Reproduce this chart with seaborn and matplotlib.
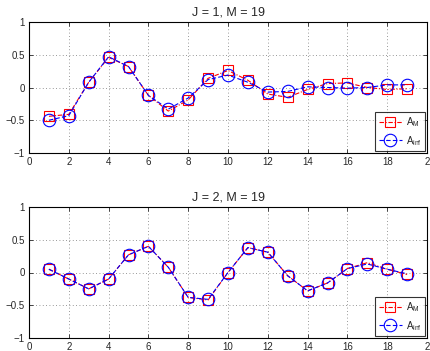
import numpy as np
import pandas as pd
import matplotlib
matplotlib.use("Agg")
import matplotlib.pyplot as plt
import seaborn as sns

sns.set_style("ticks")
plt.rcParams['font.family'] = ['Liberation Sans', 'DejaVu Sans']
plt.rcParams['mathtext.fontset'] = 'custom'
plt.rcParams['mathtext.rm'] = 'Liberation Sans'
plt.rcParams['mathtext.it'] = 'Liberation Sans'

n = list(range(1, 20))
titles = ["J = 1, M = 19", "J = 2, M = 19"]
am_j1 = [-0.44, -0.41, 0.08, 0.46, 0.32, -0.12, -0.36, -0.19, 0.14, 0.26, 0.11, -0.10, -0.15, -0.03, 0.06, 0.07, 0.00, -0.03, -0.02]
ainf_j1 = [-0.50, -0.43, 0.08, 0.47, 0.32, -0.12, -0.33, -0.16, 0.12, 0.19, 0.08, -0.07, -0.06, 0.01, 0.00, -0.01, 0.00, 0.04, 0.04]
am_j2 = [0.05, -0.10, -0.25, -0.10, 0.27, 0.40, 0.08, -0.38, -0.42, 0.00, 0.38, 0.31, -0.05, -0.28, -0.16, 0.06, 0.15, 0.05, -0.03]
ainf_j2 = [0.05, -0.10, -0.25, -0.10, 0.27, 0.40, 0.08, -0.38, -0.41, 0.00, 0.38, 0.31, -0.05, -0.28, -0.16, 0.06, 0.13, 0.05, -0.02]
xticks = [0, 2, 4, 6, 8, 10, 12, 14, 16, 18, 20]
xticklabels = ["0", "2", "4", "6", "8", "10", "12", "14", "16", "18", "2"]
yticks = [-1, -0.5, 0, 0.5, 1]
yticklabels = ["\u22121", "\u22120.5", "0", "0.5", "1"]

fig = plt.figure(figsize=(4.30, 3.51), dpi=100)
W, H = 430, 351
boxes = [(29, 22, 427, 153), (29, 207, 427, 338)]
series = [(am_j1, ainf_j1), (am_j2, ainf_j2)]

for (x0, y0, x1, y1), title, (am, ainf) in zip(boxes, titles, series):
    ax = fig.add_axes([x0 / W, 1 - y1 / H, (x1 - x0) / W, (y1 - y0) / H])
    sns.lineplot(x=n, y=am, ax=ax, color='red', linestyle=(0, (4, 1.5, 1, 1.5)), lw=0.8,
                 marker='s', markersize=7, markerfacecolor='none', markeredgecolor='red',
                 markeredgewidth=0.8, label=r'A$_{\mathrm{M}}$')
    sns.lineplot(x=n, y=ainf, ax=ax, color='blue', linestyle=(0, (4, 2)), lw=0.8,
                 marker='o', markersize=9, markerfacecolor='none', markeredgecolor='blue',
                 markeredgewidth=0.8, label=r'A$_{\mathrm{inf}}$')
    ax.set_xlim(0, 20)
    ax.set_ylim(-1, 1)
    ax.set_xticks(xticks)
    ax.set_xticklabels(xticklabels)
    ax.set_yticks(yticks)
    ax.set_yticklabels(yticklabels)
    ax.grid(True, linestyle=(0, (1, 3)), color='#777777', lw=0.6)
    ax.tick_params(direction='in', length=3, labelsize=7, pad=3, top=True, right=True, width=0.6)
    for s in ax.spines.values():
        s.set_linewidth(0.8)
        s.set_color('black')
    ax.set_title(title, fontsize=9, pad=5)
    leg = ax.legend(loc='lower right', fontsize=7, frameon=True, fancybox=False,
                    edgecolor='black', borderaxespad=0.2, handlelength=2.4,
                    borderpad=0.35, labelspacing=0.5, handletextpad=0.4)
    leg.get_frame().set_linewidth(0.8)

fig.savefig("out.png", dpi=100)
